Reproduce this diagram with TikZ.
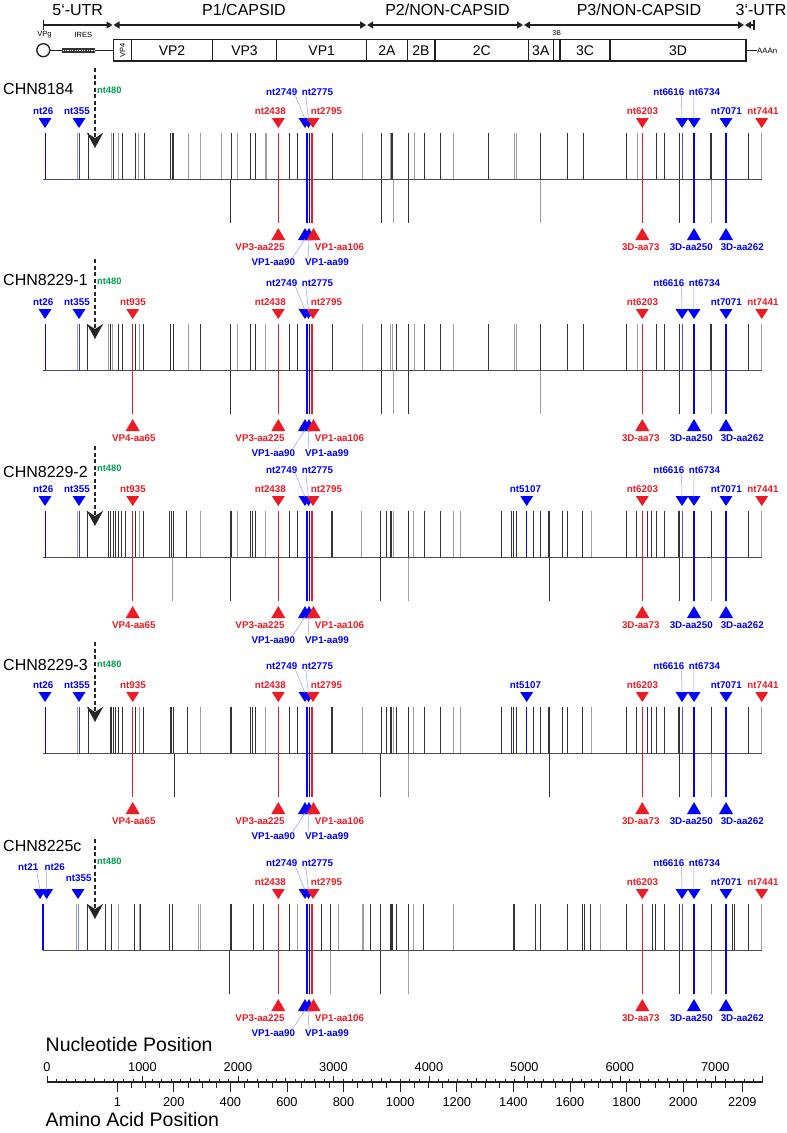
\documentclass[tikz,border=0pt]{standalone}
\usepackage{fontspec}
\setmainfont{Liberation Sans}
\usetikzlibrary{arrows.meta,calc}
\definecolor{mred}{RGB}{237,28,36}
\definecolor{mblue}{RGB}{0,0,255}
\definecolor{mgreen}{RGB}{0,160,80}
\definecolor{ink}{RGB}{35,31,32}
\tikzset{
 base/.style={draw=black!70, line width=0.8pt},
 dk/.style={draw=black!80, line width=0.8pt},
 lt/.style={draw=black!38, line width=0.8pt},
 cr/.style={draw=mred, line width=1.3pt},
 cb/.style={draw=mblue, line width=1.3pt},
 lbl/.style={inner sep=0pt, font=\fontsize{9.8}{10}\selectfont\bfseries},
 rl/.style={lbl, text=mred},
 bl/.style={lbl, text=mblue},
 gl/.style={inner sep=0pt, text=mgreen, anchor=west, font=\fontsize{9.3}{10}\selectfont\bfseries},
 pname/.style={inner sep=0pt, anchor=west, font=\fontsize{16}{18}\selectfont},
 leader/.style={draw=mblue!40, line width=0.5pt},
 dasharrow/.style={draw=black!85, line width=2.5pt, dash pattern=on 4pt off 2.5pt, -{Stealth[length=15pt,width=16pt,inset=5pt]}},
 gen/.style={draw=ink, line width=1.1pt},
 seg/.style={draw=ink, line width=1.2pt},
 segtip/.style={seg, {Triangle[length=6pt,width=7pt]}-{Triangle[length=6pt,width=7pt]}},
 title/.style={inner sep=0pt, font=\fontsize{16}{18}\selectfont},
 boxlbl/.style={inner sep=0pt, font=\fontsize{14}{16}\selectfont},
 small/.style={inner sep=0pt, font=\fontsize{7.5}{8}\selectfont},
 axl/.style={inner sep=0pt, font=\fontsize{12.8}{14}\selectfont},
 axtitle/.style={inner sep=0pt, anchor=west, font=\fontsize{19.5}{22}\selectfont},
 axtick/.style={draw=ink, line width=0.7pt},
 axmajor/.style={draw=ink, line width=1.1pt},
}
\newcommand{\Tdn}[4]{\fill[#4] (#2-6.5,#3-61) -- (#2+6.5,#3-61) -- (#2,#3-51) -- cycle; \coordinate (#1) at (#2,#3-60);}
\newcommand{\Tup}[4]{\fill[#4] (#2-7,#3+61) -- (#2+7,#3+61) -- (#2,#3+49) -- cycle; \coordinate (#1) at (#2,#3+60);}
\newcommand{\Mups}[3]{\foreach \xx in {#3}{\draw[#2] (\xx,#1) -- (\xx,#1-46);}}
\newcommand{\Mdowns}[3]{\foreach \xx in {#3}{\draw[#2] (\xx,#1) -- (\xx,#1+44);}}
\newcommand{\Panel}[4]{%
 \draw[base] (42.7,#2) -- (761.7,#2);
 \draw[cr] (278.3,#2-46) -- (278.3,#2+44);
 \draw[cb] (307,#2-46) -- (307,#2+44);
 \draw[cb] (309.5,#2-46) -- (309.5,#2+44);
 \draw[cr] (312,#2-46) -- (312,#2+44);
 \draw[cr] (642.3,#2-46) -- (642.3,#2+44);
 \draw[cb, draw=mblue!70] (682.3,#2) -- (682.3,#2-46);
 \draw[cb, line width=1.7pt] (694,#2-46) -- (694,#2+44);
 \draw[cb, line width=1.9pt] (726,#2-46) -- (726,#2+44);
 \draw[draw=mred!45!black!45, line width=0.9pt] (761.7,#2) -- (761.7,#2-46);
 \Tdn{#1t2438}{278.3}{#2}{mred}
 \Tdn{#1t2749}{305}{#2}{mblue}
 \Tdn{#1t2775}{308.5}{#2}{mblue}
 \Tdn{#1t2795}{313}{#2}{mred}
 \Tdn{#1t6203}{642.3}{#2}{mred}
 \Tdn{#1t6616}{682}{#2}{mblue}
 \Tdn{#1t6734}{694}{#2}{mblue}
 \Tdn{#1t7071}{726}{#2}{mblue}
 \Tdn{#1t7441}{761.7}{#2}{mred}
 \node[rl] (#1l2438) at (270.3,#2-68) {nt2438};
 \node[rl] (#1l2795) at (326.5,#2-68) {nt2795};
 \node[bl] (#1l2749) at (281.7,#2-87) {nt2749};
 \node[bl] (#1l2775) at (317.5,#2-87) {nt2775};
 \node[rl] (#1l6203) at (642.5,#2-68) {nt6203};
 \node[bl] (#1l6616) at (668.8,#2-87) {nt6616};
 \node[bl] (#1l6734) at (704.5,#2-87) {nt6734};
 \node[bl] (#1l7071) at (726.3,#2-68) {nt7071};
 \node[rl] (#1l7441) at (763,#2-68) {nt7441};
 \draw[leader] ($(#1l2749.south east)+(-2,0)$) -- (#1t2749);
 \draw[leader] ($(#1l2775.south west)+(4,0)$) -- (#1t2775);
 \draw[leader] ($(#1l6616.south east)+(-3,0)$) -- (#1t6616);
 \draw[leader] ($(#1l6734.south west)+(5,0)$) -- (#1t6734);
 \Tup{#1b225}{278.3}{#2}{mred}
 \Tup{#1b90}{305}{#2}{mblue}
 \Tup{#1b99}{309}{#2}{mblue}
 \Tup{#1b106}{313.5}{#2}{mred}
 \Tup{#1b73}{642.3}{#2}{mred}
 \Tup{#1b250}{694}{#2}{mblue}
 \Tup{#1b262}{726}{#2}{mblue}
 \node[rl] (#1l225) at (260,#2+68) {VP3-aa225};
 \node[rl] (#1l106) at (339.5,#2+68) {VP1-aa106};
 \node[bl] (#1l90) at (273.3,#2+83) {VP1-aa90};
 \node[bl] (#1l99) at (327,#2+83) {VP1-aa99};
 \node[rl] (#1l73) at (640.8,#2+68) {3D-aa73};
 \node[bl] (#1l250) at (691.3,#2+68) {3D-aa250};
 \node[bl] (#1l262) at (742.3,#2+68) {3D-aa262};
 \draw[leader] ($(#1l90.north east)+(-3,0)$) -- (#1b90);
 \draw[leader] ($(#1l99.north west)+(3,0)$) -- (#1b99);
 \node[pname] (#1name) at (3,#2-#4) {#3};
 \coordinate (#1a) at (95,#2-111);
 \coordinate (#1z) at (95,#2-31);
 \draw[dasharrow] (#1a) -- (#1z);
 \node[gl] (#1n480) at (97,#2-89) {nt480};
}
\newcommand{\LeftStd}[2]{%
 \draw[cb, line width=1pt] (45,#2) -- (45,#2-46);
 \draw[draw=mblue!55!gray, line width=1pt] (79.3,#2) -- (79.3,#2-46);
 \Tdn{#1t26}{45}{#2}{mblue}
 \Tdn{#1t355}{79}{#2}{mblue}
 \node[bl] (#1l26) at (43.3,#2-68) {nt26};
 \node[bl] (#1l355) at (77,#2-68) {nt355};
}
\newcommand{\VPfour}[2]{%
 \draw[cr] (132.7,#2-46) -- (132.7,#2+44);
 \Tdn{#1t935}{132.7}{#2}{mred}
 \node[rl] (#1l935) at (133,#2-68) {nt935};
 \Tup{#1b65}{132.7}{#2}{mred}
 \node[rl] (#1l65) at (133.8,#2+68) {VP4-aa65};
}
\newcommand{\NtFive}[2]{%
 \draw[cb, line width=1pt] (526.7,#2) -- (526.7,#2-46);
 \Tdn{#1t5107}{526.7}{#2}{mblue}
 \node[bl] (#1l5107) at (525.5,#2-68) {nt5107};
}
\begin{document}
\begin{tikzpicture}[x=1pt,y=-1pt]
\fill[white] (0,0) rectangle (787,1133);
\useasboundingbox (0,0) rectangle (787,1133);
% ---- genome map ----
\node[title] (t5) at (77.7,10) {5‘-UTR};
\node[title] (tp1) at (244,10) {P1/CAPSID};
\node[title] (tp2) at (447.5,10) {P2/NON-CAPSID};
\node[title] (tp3) at (639,10) {P3/NON-CAPSID};
\node[title] (t3) at (761,10) {3‘-UTR};
\coordinate (u5a) at (43.3,25); \coordinate (u5b) at (112.5,25);
\coordinate (p1a) at (113.5,25); \coordinate (p1b) at (366.2,25);
\coordinate (p2a) at (367.2,25); \coordinate (p2b) at (523,25);
\coordinate (p3a) at (524,25); \coordinate (p3b) at (744,25);
\coordinate (u3a) at (745,25); \coordinate (u3b) at (754,25);
\draw[seg] (43.3,20) -- (43.3,30);
\draw[seg, -{Triangle[length=6pt,width=7pt]}] (u5a) -- (u5b);
\draw[segtip] (p1a) -- (p1b);
\draw[segtip] (p2a) -- (p2b);
\draw[segtip] (p3a) -- (p3b);
\draw[seg, {Triangle[length=6pt,width=7pt]}-] (u3a) -- (u3b);
\draw[seg] (754,20) -- (754,30);
\node[draw=ink, line width=1.3pt, circle, minimum size=13pt, inner sep=0pt, fill=white] (vpg) at (43.3,50.2) {};
\node[small] (vpgl) at (44.5,35) {VPg};
\node[small] (iresl) at (83.3,35) {IRES};
\coordinate (boxl) at (113.3,50.2);
\draw[gen] (vpg.east) -- (boxl);
\fill[black!80] (62,47.6) rectangle (95,52.8);
\draw[white, line width=1pt, dash pattern=on 1.2pt off 1.2pt] (62.5,50.2) -- (94.5,50.2);
\draw[gen] (113.3,39.3) rectangle (746,61);
\foreach \xx in {131.7,212.3,276.7,366.7,407.3,435,528.3,553.3,560,610}{\draw[gen] (\xx,39.3) -- (\xx,61);}
\node[small, rotate=90] (vp4) at (122.5,50.2) {VP4};
\node[boxlbl] (vp2) at (172,50.2) {VP2};
\node[boxlbl] (vp3) at (244.5,50.2) {VP3};
\node[boxlbl] (vp1) at (321.7,50.2) {VP1};
\node[boxlbl] (r2a) at (387,50.2) {2A};
\node[boxlbl] (r2b) at (421,50.2) {2B};
\node[boxlbl] (r2c) at (481.7,50.2) {2C};
\node[boxlbl] (r3a) at (540.8,50.2) {3A};
\node[small, font=\fontsize{7}{8}\selectfont] (r3b) at (556.7,33.5) {3B};
\node[boxlbl] (r3c) at (585,50.2) {3C};
\node[boxlbl] (r3d) at (678,50.2) {3D};
\node[small, anchor=west, font=\fontsize{7.8}{8}\selectfont] (aaan) at (757,50.5) {AAAn};
\draw[gen] (746,50.5) -- (aaan.west);
% ---- panel 1 ----
\Mups{179}{lt}{77.3,111,118.3,138.3,188.3,200,221.7,237.3,265,266.7,362.7,390.7,414,453.3,514,516,637.3}
\Mups{179}{dk}{88.3,113.3,122.7,135,144,170.7,172,173.3,231.7,250,255,289.3,297.7,332.7,381,391.7,392.7,408.3,424.3,440,488.7,540.7,567.7,583.3,626.7,656,664,679.3,710.7,711.7,748.3}
\Mdowns{179}{lt}{393.3,540.7,711}
\Mdowns{179}{dk}{230.7,381,408.3,679.3}
\Panel{A}{179}{CHN8184}{90}
\LeftStd{A}{179}
% ---- panel 2 ----
\Mups{370}{lt}{77.3,108,112.7,139.3,188.3,237.3,265,362.7,390.7,392.7,414,453.3,514,516,637.3}
\Mups{370}{dk}{87.3,110,118.3,122.7,135,143.3,170.7,173.3,200,230.7,250,255,289.3,297.7,332.7,381,396.7,408.3,424.3,440,488.7,540.7,567.7,583.3,626.7,656,664,679.3,710.7,711.7,748.3}
\Mdowns{370}{lt}{393.3,540.7,711}
\Mdowns{370}{dk}{230.7,381,408.3,679.3}
\Panel{B}{370}{CHN8229-1}{90}
\LeftStd{B}{370}
\VPfour{B}{370}
% ---- panel 3 ----
\Mups{557}{lt}{77.3,139.3,200,237.3,265,361.7,393.3,413.3,453.3,460,591}
\Mups{557}{dk}{87.3,108.3,110,113,115,118.3,121.7,125,135,143.3,169.3,171,173.3,186.7,230,231.7,250,252.3,255,289.3,297.7,331.7,332.7,380,386.7,390.7,391.7,408.3,424,440,501,511.7,513.3,516,533.3,540,548.3,549.3,562.7,567.3,582.7,626.7,636.7,647.3,651.7,656.7,664,678.3,679.3,711.7,748.3}
\Mdowns{557}{lt}{172.7,408.3,711}
\Mdowns{557}{dk}{230,380,549.3,679.3}
\Panel{C}{557}{CHN8229-2}{85}
\LeftStd{C}{557}
\VPfour{C}{557}
\NtFive{C}{557}
% ---- panel 4 ----
\Mups{753}{lt}{77.3,139.3,200,265,362.7,393.3,413.3,453.3,460,591}
\Mups{753}{dk}{88.3,110,111.7,113.3,115,118.3,122.7,135,143.3,170,171.7,173.3,187.3,230.7,231.7,250,252.3,255,289.3,297.7,331,332.7,381,386.7,390.7,396.7,391.7,408.3,424,440,501,511.7,513.3,516,533.3,540,548.3,549.3,562.7,567.3,582.7,626.7,636.7,647.3,651.7,656.7,664,678.3,679.3,711.7,748.3}
\Mdowns{753}{lt}{408.3,711}
\Mdowns{753}{dk}{174,380,549.3,679.3}
\Panel{D}{753}{CHN8229-3}{88}
\LeftStd{D}{753}
\VPfour{D}{753}
\NtFive{D}{753}
% ---- panel 5 ----
\Mups{950}{lt}{76,118.3,139.3,198.3,200,297.7,338.3,362.7,363.3,413.3,453.3,600}
\Mups{950}{dk}{87.3,105,111,134,140,169.3,172.7,230,231.7,253.3,263.3,289.3,321.7,330,370.7,380,390.7,396.7,391.7,392.7,408.3,423.3,513.3,514.3,535.7,540,567.3,582.7,584,590,626.7,652.7,655,664,679.3,711.7,732.7,734,748.3}
\Mdowns{950}{lt}{330,408.3,711}
\Mdowns{950}{dk}{229.3,380,679.3}
\Panel{E}{950}{CHN8225c}{104}
\draw[cb, line width=2pt] (43.3,950) -- (43.3,904);
\draw[draw=mblue!50, line width=1pt] (78.3,950) -- (78.3,904);
\Tdn{Et21}{40}{950}{mblue}
\Tdn{Et26}{46.7}{950}{mblue}
\Tdn{Et355}{78}{950}{mblue}
\node[bl] (El21) at (28.3,867) {nt21};
\node[bl] (El26) at (54.7,867) {nt26};
\node[bl] (El355) at (78.7,878.3) {nt355};
\draw[leader] ($(El21.south east)+(-2,0)$) -- (Et21);
\draw[leader] ($(El26.south west)+(2,0)$) -- (Et26);
% ---- axes ----
\node[axtitle] (ntt) at (45.5,1045) {Nucleotide Position};
\node[axtitle] (aat) at (45.5,1120) {Amino Acid Position};
\coordinate (axl) at (47,1082.3); \coordinate (axr) at (762.7,1082.3);
\draw[draw=ink, line width=2pt] (axl) -- (axr);
\foreach \n in {0,100,...,7400}{
 \pgfmathsetmacro\xx{47+0.095473*\n}
 \pgfmathsetmacro\tl{3+1.5*(mod(\n,500)==0)+1.8*(mod(\n,1000)==0)}
 \draw[axtick] (\xx,1082.3) -- (\xx,1082.3-\tl);
}
\draw[axmajor] (762.7,1082.3) -- (762.7,1075.5);
\foreach \n in {0,1000,...,7000}{
 \pgfmathsetmacro\xx{47+0.095473*\n}
 \node[axl] (ntl\n) at (\xx,1066.7) {\n};
}
\foreach \a in {50,100,...,2150}{
 \pgfmathsetmacro\xx{117.4+(\a-1)*0.28303}
 \pgfmathsetmacro\tl{6+3.5*(mod(\a,200)==0)}
 \draw[axtick] (\xx,1082.3) -- (\xx,1082.3+\tl);
}
\foreach \a in {1,2209}{
 \pgfmathsetmacro\xx{117.4+(\a-1)*0.28303}
 \draw[axtick] (\xx,1082.3) -- (\xx,1091.8);
}
\foreach \a in {1,200,400,600,800,1000,1200,1400,1600,1800,2000,2209}{
 \pgfmathsetmacro\xx{117.4+(\a-1)*0.28303}
 \node[axl] (aal\a) at (\xx,1101.7) {\a};
}
\end{tikzpicture}
\end{document}
